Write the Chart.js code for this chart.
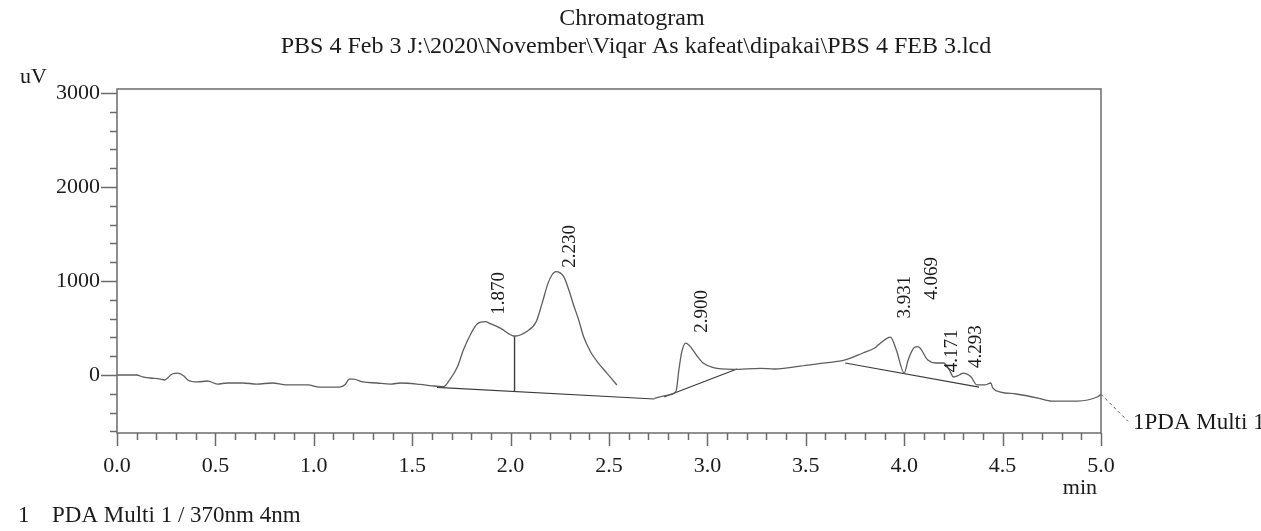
<!DOCTYPE html>
<html>
<head>
<meta charset="utf-8">
<title>Chromatogram</title>
<script src="https://cdn.jsdelivr.net/npm/chart.js@4.4.1/dist/chart.umd.min.js"></script>
<style>
  html, body { margin: 0; padding: 0; background: #fff; }
  #wrap { position: relative; width: 1261px; height: 531px; }
</style>
</head>
<body>
<div id="wrap"><canvas id="chrom"></canvas></div>
<script>
// PDA Multi 1, 370 nm trace. Retention time in min, signal in uV.
// null = no trace drawn between the 2.230 tail and the 2.900 rise.
const retTime = [
  0.00, 0.10, 0.13, 0.17, 0.22, 0.24, 0.28, 0.31, 0.34, 0.36, 0.41, 0.46, 0.51, 0.56,
  0.64, 0.71, 0.79, 0.86, 0.97, 1.03, 1.13, 1.16, 1.18, 1.20, 1.25, 1.32, 1.39, 1.44,
  1.54, 1.60, 1.66, 1.69, 1.73, 1.76, 1.80, 1.83, 1.87, 1.90, 1.95, 2.02, 2.08, 2.13,
  2.16, 2.19, 2.21, 2.23, 2.27, 2.296, 2.32, 2.346, 2.372, 2.406, 2.44, 2.49, 2.54, 2.62,
  2.73, 2.80, 2.84, 2.855, 2.87, 2.89, 2.92, 2.95, 2.98, 3.03, 3.13, 3.27, 3.34, 3.51,
  3.60, 3.70, 3.79, 3.85, 3.88, 3.93, 3.96, 4.00, 4.02, 4.05, 4.07, 4.12, 4.16, 4.20,
  4.23, 4.25, 4.28, 4.30, 4.34, 4.37, 4.41, 4.44, 4.45, 4.49, 4.57, 4.68, 4.75, 4.88,
  4.98, 5.00
];
const signal = [
  0, 0, -20, -32, -43, -53, 11, 21, -11, -53, -74, -64, -96, -85,
  -85, -96, -85, -106, -106, -128, -128, -100, -43, -43, -74, -85, -96, -85,
  -100, -115, -124, -53, 88, 266, 447, 543, 567, 543, 496, 415, 461, 567,
  762, 975, 1064, 1100, 1046, 904, 745, 585, 401, 248, 142, 18, -106, null,
  -248, -213, -177, 53, 248, 340, 284, 195, 124, 78, 60, 71, 64, 106,
  128, 160, 234, 287, 340, 404, 266, 21, 160, 290, 301, 160, 128, 128,
  53, -21, 0, 21, -21, -106, -106, -85, -138, -181, -202, -245, -277, -277,
  -234, -205
];

// integrator results
const peakTimes = [1.870, 2.230, 2.900, 3.931, 4.069, 4.171, 4.293];
const peakNames = ['1.870', '2.230', '2.900', '3.931', '4.069', '4.171', '4.293'];

// integration baselines, each [start, end]
const baseTimes = [[1.626, 2.73], [2.78, 3.15], [3.70, 4.38]];
const baseValues = [[-131, -255], [-234, 64], [128, -128]];

// perpendicular drops between merged peaks
const dropTimes = [2.02, 4.00];
const dropFrom = [-175, 15];
const dropTo = [415, 21];

const xTicks = [0.0, 0.5, 1.0, 1.5, 2.0, 2.5, 3.0, 3.5, 4.0, 4.5, 5.0];
const yTicks = [0, 1000, 2000, 3000];

const SERIF = "'Liberation Serif', 'Times New Roman', serif";
const INK = '#1b1b1b';

// where each peak label starts (uV), lifted where labels would collide
const labelBase = [640, 1140, 450, 600, 800, 30, 75];

const datasets = [{
  data: retTime.map((t, i) => ({ x: t, y: signal[i] })),
  borderColor: '#5e5e5e', borderWidth: 1.3, pointRadius: 0,
  cubicInterpolationMode: 'monotone', spanGaps: false,
}];
baseTimes.forEach((tt, i) => {
  datasets.push({
    data: [{ x: tt[0], y: baseValues[i][0] }, { x: tt[1], y: baseValues[i][1] }],
    borderColor: '#3c3c3c', borderWidth: 1.2, pointRadius: 0,
  });
});
dropTimes.forEach((t, i) => {
  datasets.push({
    data: [{ x: t, y: dropFrom[i] }, { x: t, y: dropTo[i] }],
    borderColor: '#3c3c3c', borderWidth: 1.4, pointRadius: 0,
  });
});

// frame, minor/major ticks, peak labels, titles and the trace tag
const decor = {
  id: 'decor',
  afterDraw(chart) {
    const { ctx, chartArea: a, scales: { x, y } } = chart;
    ctx.save();

    ctx.strokeStyle = '#6b6b6b';
    ctx.lineWidth = 1.5;
    ctx.strokeRect(a.left, a.top, a.right - a.left, a.bottom - a.top);

    ctx.beginPath();
    for (let v = -600; v <= 3000; v += 200) {
      const py = Math.round(y.getPixelForValue(v)) + 0.5;
      const len = v % 1000 === 0 ? 16 : 7;
      ctx.moveTo(a.left - len, py);
      ctx.lineTo(a.left, py);
    }
    for (let i = 0; i <= 50; i++) {
      const px = Math.round(x.getPixelForValue(i / 10)) + 0.5;
      const len = i % 5 === 0 ? 13 : 7;
      ctx.moveTo(px, a.bottom);
      ctx.lineTo(px, a.bottom + len);
    }
    ctx.stroke();

    // retention time labels, rotated
    ctx.fillStyle = INK;
    ctx.font = '19px ' + SERIF;
    ctx.textAlign = 'left';
    ctx.textBaseline = 'middle';
    peakTimes.forEach((t, i) => {
      ctx.save();
      ctx.translate(x.getPixelForValue(t) + 14, y.getPixelForValue(labelBase[i]));
      ctx.rotate(-Math.PI / 2);
      ctx.fillText(peakNames[i], 0, 0);
      ctx.restore();
    });

    // trace tag at the end of the signal
    const last = signal.length - 1;
    const sx = x.getPixelForValue(retTime[last]);
    const sy = y.getPixelForValue(signal[last]);
    ctx.strokeStyle = '#555';
    ctx.lineWidth = 1;
    ctx.setLineDash([3, 3]);
    ctx.beginPath();
    ctx.moveTo(sx, sy);
    ctx.lineTo(sx + 27, sy + 27);
    ctx.stroke();
    ctx.setLineDash([]);
    ctx.textBaseline = 'alphabetic';
    ctx.font = '23px ' + SERIF;
    ctx.fillText('1PDA Multi 1', sx + 32, sy + 35);

    ctx.font = '24px ' + SERIF;
    ctx.textAlign = 'center';
    ctx.fillText('Chromatogram', 632, 25);
    ctx.fillText('PBS 4 Feb 3 J:\\2020\\November\\Viqar As kafeat\\dipakai\\PBS 4 FEB 3.lcd', 636, 53);

    ctx.font = '22px ' + SERIF;
    ctx.textAlign = 'left';
    ctx.fillText('uV', 20, 83);
    ctx.textAlign = 'right';
    ctx.fillText('min', 1097, 494);

    ctx.font = '23px ' + SERIF;
    ctx.textAlign = 'left';
    ctx.fillText('1', 18, 522);
    ctx.fillText('PDA Multi 1 / 370nm 4nm', 52, 522);

    ctx.restore();
  }
};

new Chart(document.getElementById('chrom'), {
  type: 'line',
  data: { datasets },
  options: {
    responsive: true,
    maintainAspectRatio: false,
    animation: false,
    layout: { padding: { top: 89, right: 160, left: 0, bottom: 0 } },
    plugins: { legend: { display: false }, tooltip: { enabled: false } },
    scales: {
      x: {
        type: 'linear', min: 0, max: 5,
        grid: { display: false, drawTicks: false },
        border: { display: false },
        ticks: {
          padding: 20, color: INK, font: { family: SERIF, size: 22 },
          maxRotation: 0, autoSkip: false,
          callback: v => Number(v).toFixed(1),
        },
        afterBuildTicks: s => { s.ticks = xTicks.map(v => ({ value: v })); },
        afterFit: s => { s.height = 98; },
      },
      y: {
        type: 'linear', min: -617, max: 3043,
        grid: { display: false, drawTicks: false },
        border: { display: false },
        ticks: {
          padding: 17, color: INK, font: { family: SERIF, size: 22 },
          includeBounds: false,
          callback: v => String(v),
        },
        afterBuildTicks: s => { s.ticks = yTicks.map(v => ({ value: v })); },
        afterFit: s => { s.width = 117; },
      },
    },
  },
  plugins: [decor],
});
</script>
</body>
</html>
